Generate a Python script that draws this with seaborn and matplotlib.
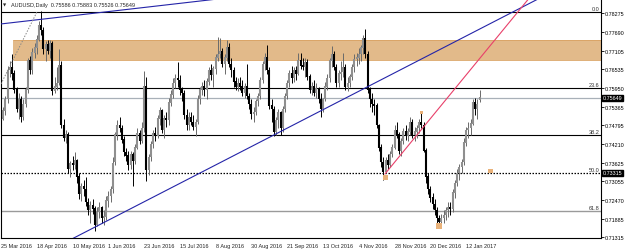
import numpy as np
import pandas as pd
import matplotlib
matplotlib.use("Agg")
import matplotlib.pyplot as plt
import matplotlib.transforms as mtransforms
import seaborn as sns

# ---------------- data (AUDUSD daily, bar index 0 = 25 Mar 2016) ----------------
opens = [0.7505,0.7500,0.7525,0.7560,0.7650,0.7660,0.7640,0.7590,0.7530,0.7560,
         0.7505,0.7545,0.7590,0.7680,0.7650,0.7705,0.7720,0.7745,0.7790,0.7775,
         0.7715,0.7730,0.7710,0.7735,0.7585,0.7600,0.7610,0.7665,0.7480,0.7440,
         0.7450,0.7345,0.7360,0.7355,0.7370,0.7320,0.7265,0.7290,0.7280,0.7240,
         0.7215,0.7230,0.7220,0.7170,0.7210,0.7225,0.7190,0.7195,0.7245,0.7260,
         0.7280,0.7365,0.7450,0.7480,0.7470,0.7435,0.7395,0.7385,0.7355,0.7390,
         0.7370,0.7410,0.7455,0.7430,0.7470,0.7600,0.7340,0.7380,0.7420,0.7455,
         0.7445,0.7500,0.7525,0.7465,0.7500,0.7495,0.7550,0.7575,0.7610,0.7625,
         0.7620,0.7590,0.7580,0.7510,0.7480,0.7505,0.7490,0.7475,0.7490,0.7560,
         0.7590,0.7600,0.7590,0.7615,0.7650,0.7635,0.7655,0.7690,0.7700,0.7710,
         0.7670,0.7690,0.7720,0.7670,0.7650,0.7615,0.7600,0.7610,0.7600,0.7580,
         0.7600,0.7570,0.7545,0.7515,0.7520,0.7555,0.7570,0.7620,0.7670,0.7690,
         0.7650,0.7540,0.7530,0.7460,0.7495,0.7520,0.7470,0.7530,0.7570,0.7610,
         0.7640,0.7625,0.7650,0.7640,0.7680,0.7665,0.7660,0.7675,0.7630,0.7590,
         0.7600,0.7580,0.7595,0.7560,0.7530,0.7560,0.7600,0.7625,0.7680,0.7700,
         0.7660,0.7610,0.7640,0.7645,0.7660,0.7600,0.7610,0.7630,0.7660,0.7685,
         0.7690,0.7700,0.7720,0.7750,0.7700,0.7590,0.7560,0.7545,0.7540,0.7480,
         0.7410,0.7365,0.7335,0.7370,0.7355,0.7390,0.7410,0.7465,0.7450,0.7400,
         0.7430,0.7460,0.7445,0.7460,0.7490,0.7450,0.7460,0.7470,0.7490,0.7480,
         0.7400,0.7320,0.7280,0.7255,0.7235,0.7215,0.7190,0.7180,0.7190,0.7200,
         0.7215,0.7225,0.7220,0.7270,0.7300,0.7330,0.7350,0.7365,0.7425,0.7465,
         0.7470,0.7485,0.7550,0.7530,0.75586]
highs = [0.7520,0.7535,0.7570,0.7665,0.7680,0.7700,0.7650,0.7600,0.7580,0.7570,
         0.7560,0.7600,0.7690,0.7695,0.7720,0.7735,0.7760,0.7805,0.7834,0.7785,
         0.7740,0.7745,0.7745,0.7740,0.7630,0.7660,0.7715,0.7680,0.7500,0.7465,
         0.7460,0.7370,0.7385,0.7395,0.7375,0.7330,0.7300,0.7310,0.7320,0.7255,
         0.7245,0.7250,0.7230,0.7225,0.7240,0.7230,0.7215,0.7260,0.7275,0.7290,
         0.7380,0.7460,0.7495,0.7505,0.7480,0.7445,0.7410,0.7400,0.7400,0.7395,
         0.7420,0.7470,0.7465,0.7490,0.7647,0.7630,0.7390,0.7430,0.7465,0.7475,
         0.7510,0.7535,0.7530,0.7510,0.7520,0.7565,0.7590,0.7625,0.7640,0.7675,
         0.7635,0.7600,0.7590,0.7530,0.7520,0.7520,0.7510,0.7500,0.7575,0.7600,
         0.7615,0.7620,0.7625,0.7660,0.7670,0.7665,0.7700,0.7755,0.7750,0.7720,
         0.7700,0.7745,0.7735,0.7690,0.7660,0.7630,0.7625,0.7630,0.7620,0.7610,
         0.7670,0.7580,0.7560,0.7535,0.7560,0.7580,0.7630,0.7680,0.7705,0.7730,
         0.7660,0.7560,0.7540,0.7505,0.7530,0.7525,0.7540,0.7580,0.7620,0.7650,
         0.7665,0.7660,0.7665,0.7705,0.7705,0.7690,0.7690,0.7685,0.7640,0.7615,
         0.7620,0.7610,0.7600,0.7580,0.7565,0.7615,0.7640,0.7690,0.7725,0.7710,
         0.7670,0.7650,0.7680,0.7705,0.7670,0.7630,0.7640,0.7670,0.7700,0.7705,
         0.7720,0.7730,0.7760,0.7778,0.7710,0.7600,0.7580,0.7560,0.7550,0.7485,
         0.7420,0.7380,0.7380,0.7390,0.7400,0.7420,0.7480,0.7490,0.7460,0.7440,
         0.7470,0.7480,0.7470,0.7505,0.7500,0.7475,0.7480,0.7500,0.7525,0.7490,
         0.7410,0.7330,0.7290,0.7270,0.7250,0.7225,0.7200,0.7205,0.7215,0.7225,
         0.7240,0.7240,0.7280,0.7310,0.7345,0.7360,0.7375,0.7440,0.7475,0.7490,
         0.7500,0.7560,0.7565,0.7560,0.75883]
lows = [0.7490,0.7495,0.7510,0.7550,0.7630,0.7620,0.7580,0.7520,0.7500,0.7490,
        0.7495,0.7535,0.7580,0.7640,0.7640,0.7690,0.7700,0.7740,0.7760,0.7700,
        0.7680,0.7700,0.7690,0.7575,0.7580,0.7590,0.7605,0.7470,0.7430,0.7425,
        0.7330,0.7320,0.7340,0.7345,0.7300,0.7250,0.7245,0.7260,0.7230,0.7200,
        0.7175,0.7205,0.7150,0.7165,0.7190,0.7175,0.7170,0.7185,0.7225,0.7240,
        0.7270,0.7355,0.7435,0.7460,0.7425,0.7385,0.7370,0.7340,0.7345,0.7290,
        0.7360,0.7405,0.7420,0.7425,0.7460,0.7305,0.7325,0.7370,0.7410,0.7430,
        0.7440,0.7480,0.7455,0.7440,0.7475,0.7480,0.7540,0.7565,0.7595,0.7600,
        0.7575,0.7555,0.7500,0.7465,0.7465,0.7480,0.7465,0.7445,0.7485,0.7545,
        0.7575,0.7570,0.7560,0.7605,0.7620,0.7600,0.7640,0.7680,0.7690,0.7660,
        0.7640,0.7680,0.7660,0.7630,0.7600,0.7590,0.7585,0.7590,0.7570,0.7565,
        0.7560,0.7530,0.7500,0.7490,0.7510,0.7540,0.7560,0.7610,0.7650,0.7640,
        0.7530,0.7490,0.7445,0.7450,0.7470,0.7450,0.7460,0.7520,0.7560,0.7600,
        0.7610,0.7615,0.7620,0.7635,0.7655,0.7650,0.7630,0.7620,0.7580,0.7575,
        0.7570,0.7565,0.7550,0.7505,0.7520,0.7555,0.7590,0.7615,0.7660,0.7650,
        0.7600,0.7600,0.7620,0.7630,0.7590,0.7585,0.7600,0.7620,0.7645,0.7665,
        0.7670,0.7680,0.7700,0.7690,0.7580,0.7535,0.7520,0.7510,0.7470,0.7400,
        0.7350,0.7310,0.7330,0.7345,0.7350,0.7380,0.7405,0.7440,0.7390,0.7385,
        0.7420,0.7435,0.7430,0.7450,0.7440,0.7430,0.7440,0.7455,0.7470,0.7395,
        0.7300,0.7265,0.7240,0.7220,0.7200,0.7170,0.7160,0.7170,0.7175,0.7185,
        0.7195,0.7200,0.7210,0.7255,0.7290,0.7310,0.7330,0.7355,0.7415,0.7440,
        0.7450,0.7480,0.7510,0.7500,0.75526]
closes = [0.7500,0.7525,0.7560,0.7650,0.7660,0.7640,0.7590,0.7530,0.7560,0.7505,
          0.7545,0.7590,0.7680,0.7650,0.7705,0.7720,0.7745,0.7790,0.7775,0.7715,
          0.7730,0.7710,0.7735,0.7585,0.7600,0.7610,0.7665,0.7480,0.7440,0.7450,
          0.7345,0.7360,0.7355,0.7370,0.7320,0.7265,0.7290,0.7280,0.7240,0.7215,
          0.7230,0.7220,0.7170,0.7210,0.7225,0.7190,0.7195,0.7245,0.7260,0.7280,
          0.7360,0.7450,0.7480,0.7470,0.7435,0.7395,0.7385,0.7355,0.7390,0.7370,
          0.7410,0.7455,0.7430,0.7470,0.7600,0.7340,0.7380,0.7420,0.7455,0.7445,
          0.7500,0.7525,0.7465,0.7500,0.7495,0.7550,0.7575,0.7610,0.7625,0.7620,
          0.7590,0.7580,0.7510,0.7480,0.7505,0.7490,0.7475,0.7490,0.7560,0.7590,
          0.7600,0.7590,0.7615,0.7650,0.7635,0.7655,0.7690,0.7700,0.7710,0.7670,
          0.7690,0.7720,0.7670,0.7650,0.7615,0.7600,0.7610,0.7600,0.7580,0.7600,
          0.7570,0.7545,0.7515,0.7520,0.7555,0.7570,0.7620,0.7670,0.7690,0.7650,
          0.7540,0.7530,0.7460,0.7495,0.7520,0.7470,0.7530,0.7570,0.7610,0.7640,
          0.7625,0.7650,0.7640,0.7680,0.7665,0.7660,0.7675,0.7630,0.7590,0.7600,
          0.7580,0.7595,0.7560,0.7530,0.7560,0.7600,0.7625,0.7680,0.7700,0.7660,
          0.7610,0.7640,0.7645,0.7660,0.7600,0.7610,0.7630,0.7660,0.7685,0.7690,
          0.7700,0.7720,0.7750,0.7700,0.7590,0.7560,0.7545,0.7540,0.7480,0.7410,
          0.7365,0.7335,0.7370,0.7355,0.7390,0.7410,0.7465,0.7450,0.7400,0.7430,
          0.7460,0.7445,0.7460,0.7490,0.7450,0.7460,0.7470,0.7490,0.7480,0.7400,
          0.7320,0.7280,0.7255,0.7235,0.7215,0.7190,0.7180,0.7190,0.7200,0.7215,
          0.7225,0.7220,0.7270,0.7300,0.7330,0.7350,0.7365,0.7425,0.7465,0.7470,
          0.7485,0.7550,0.7530,0.7545,0.75649]

date_tick_bars = [0, 16, 32, 48, 64, 80, 96, 112, 128, 144, 160, 176, 192, 208]
date_tick_labels = ["25 Mar 2016", "18 Apr 2016", "10 May 2016", "1 Jun 2016",
                    "23 Jun 2016", "15 Jul 2016", "8 Aug 2016", "30 Aug 2016",
                    "21 Sep 2016", "13 Oct 2016", "4 Nov 2016", "28 Nov 2016",
                    "20 Dec 2016", "12 Jan 2017"]
price_ticks = [0.78275, 0.77690, 0.77105, 0.76535, 0.75950, 0.75365, 0.74795,
               0.74210, 0.73625, 0.73055, 0.72470, 0.71885, 0.71315]

fib_levels = [0.7831, 0.7595, 0.7449, 0.73315, 0.7213]
fib_names = ["0.0", "23.6", "38.2", "50.0", "61.8"]
zone_low, zone_high, zone_start_bar = 0.7683, 0.7746, 5.2
bid_price = 0.75649

blue_bars = [32.2, 240.2]
blue_prices = [0.7128, 0.7872]
blue2_bars = [-0.5, 97.0]
blue2_prices = [0.7794, 0.7872]
red_bars = [171.7, 235.9]
red_prices = [0.7328, 0.7872]
dotted_bars = [0.0, 16.1]
dotted_prices = [0.7608, 0.7832]
marker_bars = [171.95, 195.9, 188.1, 218.9]
marker_prices = [0.7317, 0.7166, 0.7519, 0.7337]
marker_sizes = [16, 16, 5, 9]

# ---------------- figure ----------------
sns.set_style("white")
plt.rcParams["font.family"] = ["Liberation Sans", "DejaVu Sans"]

W, H = 625, 251
fig = plt.figure(figsize=(W / 100, H / 100), dpi=100)
ax_left, ax_right, ax_bottom_px = 1, 601, 239.3
ax = fig.add_axes([ax_left / W, (H - ax_bottom_px) / H,
                   (ax_right - ax_left) / W, ax_bottom_px / H])
px_per_bar = 2.236
ax.set_xlim(0, (ax_right - ax_left) / px_per_bar)
ax.set_ylim(0.71283, 0.78719)

df = pd.DataFrame({"o": opens, "h": highs, "l": lows, "c": closes})
df["bar"] = np.arange(len(df))
up = df["c"] >= df["o"]

# zone
ax.fill_between([zone_start_bar, 400], zone_low, zone_high, color="#E2BA8A",
                edgecolor="none", zorder=1)
ax.hlines([zone_low, zone_high], zone_start_bar, 400, color="#D9A262", lw=0.6, zorder=1)

tr = mtransforms.blended_transform_factory(ax.transAxes, ax.transData)

# horizontal levels
for lev, name in zip(fib_levels, fib_names):
    if name == "50.0":
        ax.axhline(lev, color="black", lw=0.9, ls=(0, (1.2, 1.2)), zorder=2)
    elif name == "61.8":
        ax.axhline(lev, color="#9a9a9a", lw=1.0, zorder=2)
    else:
        ax.axhline(lev, color="black", lw=0.8, zorder=2)
    ax.text(0.997, lev + 0.00035, name, transform=tr,
            ha="right", va="bottom", fontsize=4, color="#333333")
ax.axhline(bid_price, color="#A8B0B8", lw=0.9, zorder=2)

# candles
body_lo = np.minimum(df["o"], df["c"])
body_hi = np.maximum(df["o"], df["c"]) + 0.00012
for mask, wcol, bcol in [(up, "#6a6a6a", "#8f8f8f"), (~up, "black", "black")]:
    d = df[mask]
    ax.vlines(d["bar"], d["l"], d["h"], color=wcol, lw=0.7, zorder=3)
    ax.vlines(d["bar"], body_lo[mask], body_hi[mask], color=bcol, lw=1.5, zorder=4)

# trend lines via seaborn
sns.lineplot(x=blue_bars, y=blue_prices, ax=ax, color="#2424A8", lw=0.8, zorder=5)
sns.lineplot(x=blue2_bars, y=blue2_prices, ax=ax, color="#2424A8", lw=0.8, zorder=5)
sns.lineplot(x=red_bars, y=red_prices, ax=ax, color="#E8406A", lw=0.8, zorder=5)
ax.plot(dotted_bars, dotted_prices, color="#888888", lw=0.7, ls=(0, (1.5, 1.5)), zorder=5)

sns.scatterplot(x=marker_bars, y=marker_prices, ax=ax, marker="s", s=marker_sizes,
                color="#E9B27A", edgecolor="none", zorder=6, legend=False)

# axes styling
for side in ["left", "right", "bottom"]:
    ax.spines[side].set_color("black")
    ax.spines[side].set_linewidth(0.8)
ax.spines["top"].set_visible(False)

ax.yaxis.tick_right()
ax.set_yticks(price_ticks)
ax.set_yticklabels([f"{p:.5f}" for p in price_ticks])
ax.tick_params(axis="y", direction="out", length=2.0, width=0.6, pad=0.8, labelsize=3.9,
               colors="black")
ax.set_xticks(date_tick_bars)
ax.set_xticklabels(date_tick_labels, ha="left")
ax.tick_params(axis="x", direction="out", length=2.2, width=0.6, pad=1.2, labelsize=4)
for lbl in ax.get_xticklabels():
    lbl.set_horizontalalignment("left")
ax.set_xlabel("")
ax.set_ylabel("")

# highlighted price boxes
for val in [bid_price, 0.73315]:
    ax.text(1.003, val, f"{val:.5f}", transform=tr, ha="left", va="center",
            fontsize=3.9, color="white",
            bbox=dict(facecolor="black", edgecolor="black", pad=0.5), zorder=10,
            clip_on=False)

# info text
ax.text(0.004, 0.978, "\u25BC", transform=ax.transAxes, fontsize=3, va="center",
        ha="left", family="DejaVu Sans")
ax.text(0.016, 0.978, "AUDUSD,Daily  0.75586 0.75883 0.75526 0.75649",
        transform=ax.transAxes, fontsize=4, va="center", ha="left")

fig.savefig("out.png", dpi=100)
